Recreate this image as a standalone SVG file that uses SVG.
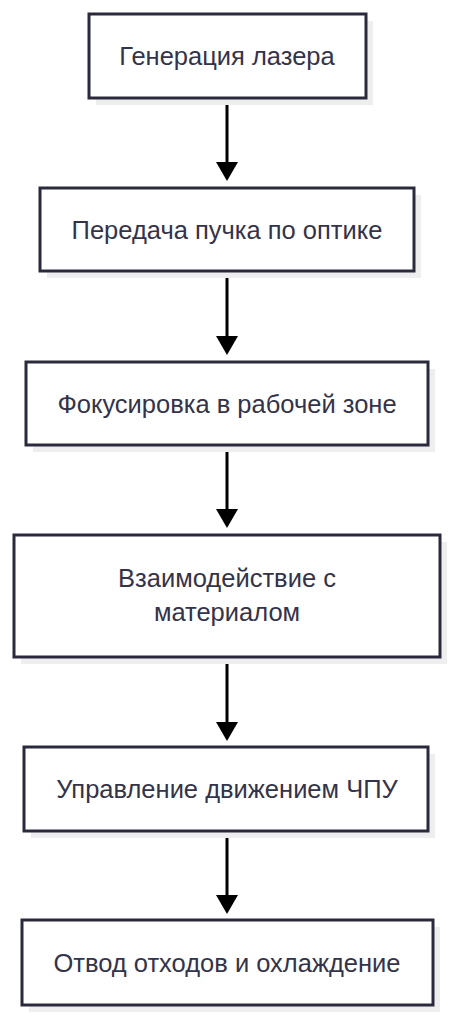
<svg xmlns="http://www.w3.org/2000/svg" width="456" height="1024" viewBox="0 0 456 1024">
<style>
.shadow{fill:#eeeeee;}
.box{fill:#ffffff;stroke:#2a2a3c;stroke-width:3;}
.lbl{font-family:"Liberation Sans",Arial,sans-serif;font-size:25.5px;fill:#33334a;text-anchor:middle;}
.edge{stroke:#000;stroke-width:3;fill:none;}
.head{fill:#000;}
</style>
<rect width="456" height="1024" fill="#ffffff"/>
<g id="connectors">
<line class="edge" x1="227" y1="98" x2="227" y2="164"/>
<polygon class="head" points="216,162 238,162 227,181"/>
<line class="edge" x1="227" y1="271" x2="227" y2="338"/>
<polygon class="head" points="216,336 238,336 227,355"/>
<line class="edge" x1="227" y1="445" x2="227" y2="511"/>
<polygon class="head" points="216,509 238,509 227,528"/>
<line class="edge" x1="227" y1="657" x2="227" y2="724"/>
<polygon class="head" points="216,722 238,722 227,741"/>
<line class="edge" x1="227" y1="831" x2="227" y2="897"/>
<polygon class="head" points="216,895 238,895 227,914"/>
</g>
<g id="n1">
<rect class="shadow" x="96" y="21" width="277" height="84"/>
<rect class="box" x="89" y="14" width="277" height="84"/>
<text class="lbl" x="227" y="65">Генерация лазера</text>
</g>
<g id="n2">
<rect class="shadow" x="47" y="195" width="374" height="83"/>
<rect class="box" x="40" y="188" width="374" height="83"/>
<text class="lbl" x="227" y="239">Передача пучка по оптике</text>
</g>
<g id="n3">
<rect class="shadow" x="33" y="369" width="402" height="83"/>
<rect class="box" x="26" y="362" width="402" height="83"/>
<text class="lbl" x="227" y="413">Фокусировка в рабочей зоне</text>
</g>
<g id="n4">
<rect class="shadow" x="21" y="542" width="426" height="122"/>
<rect class="box" x="14" y="535" width="426" height="122"/>
<text class="lbl" x="227" y="587">Взаимодействие с</text>
<text class="lbl" x="227" y="621">материалом</text>
</g>
<g id="n5">
<rect class="shadow" x="31" y="754" width="404" height="84"/>
<rect class="box" x="24" y="747" width="404" height="84"/>
<text class="lbl" x="227" y="798">Управление движением ЧПУ</text>
</g>
<g id="n6">
<rect class="shadow" x="29" y="927" width="411" height="85"/>
<rect class="box" x="22" y="920" width="411" height="85"/>
<text class="lbl" x="227" y="972">Отвод отходов и охлаждение</text>
</g>
</svg>
